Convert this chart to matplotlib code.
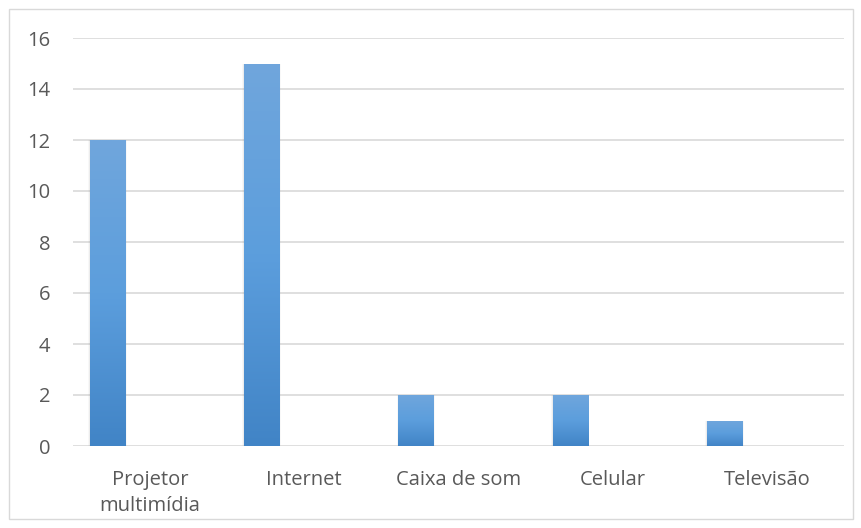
import numpy as np
import matplotlib.pyplot as plt
from matplotlib.colors import LinearSegmentedColormap
from matplotlib.patches import Rectangle

# dados
categorias = ['Projetor\nmultimídia', 'Internet', 'Caixa de som', 'Celular', 'Televisão']
valores = [12, 15, 2, 2, 1]
yticks = [0, 2, 4, 6, 8, 10, 12, 14, 16]

plt.rcParams['font.family'] = ['Open Sans', 'DejaVu Sans']

fig = plt.figure(figsize=(8.62, 5.28), dpi=100)
ax = fig.add_axes([73/862, 1-446/528, (844-73)/862, (446-38)/528])

# moldura externa
fig.patches.append(Rectangle((9/862, 9/528), (853-9)/862, (519-9)/528,
                             transform=fig.transFigure, fill=False,
                             edgecolor='#d9d9d9', linewidth=1))

x = np.arange(len(categorias))
desloc = -0.276
larg = 0.227

# sombra leve
for dx, a in [(0.012, 0.10), (0.024, 0.05)]:
    ax.bar(x + desloc, valores, width=larg + dx, color='#808080', alpha=a,
           zorder=2, linewidth=0)

barras = ax.bar(x + desloc, valores, width=larg, color='#5b9bd5', zorder=3, linewidth=0)

# gradiente de cada barra
cmap = LinearSegmentedColormap.from_list('grad', ['#4184c6', '#5c9edd', '#70a6dc'])
grad = np.linspace(0, 1, 256).reshape(-1, 1)
for b in barras:
    x0, y0 = b.get_x(), b.get_y()
    w, h = b.get_width(), b.get_height()
    im = ax.imshow(grad, cmap=cmap, aspect='auto', origin='lower',
                   extent=(x0, x0 + w, y0, y0 + h), zorder=4)
    im.set_clip_path(b)

ax.set_xlim(-0.5, len(categorias) - 0.5)
ax.set_ylim(0, 16)
ax.set_yticks(yticks)
ax.set_xticks(x)
ax.set_xticklabels(categorias, linespacing=1.45)
ax.grid(axis='y', color='#d9d9d9', linewidth=1.2, zorder=0)
ax.set_axisbelow(True)
for s in ax.spines.values():
    s.set_visible(False)
ax.tick_params(axis='both', length=0, labelsize=14.5, colors='#595959')
ax.tick_params(axis='y', pad=16.5)
ax.tick_params(axis='x', pad=17)

fig.savefig('out.png', dpi=100)
